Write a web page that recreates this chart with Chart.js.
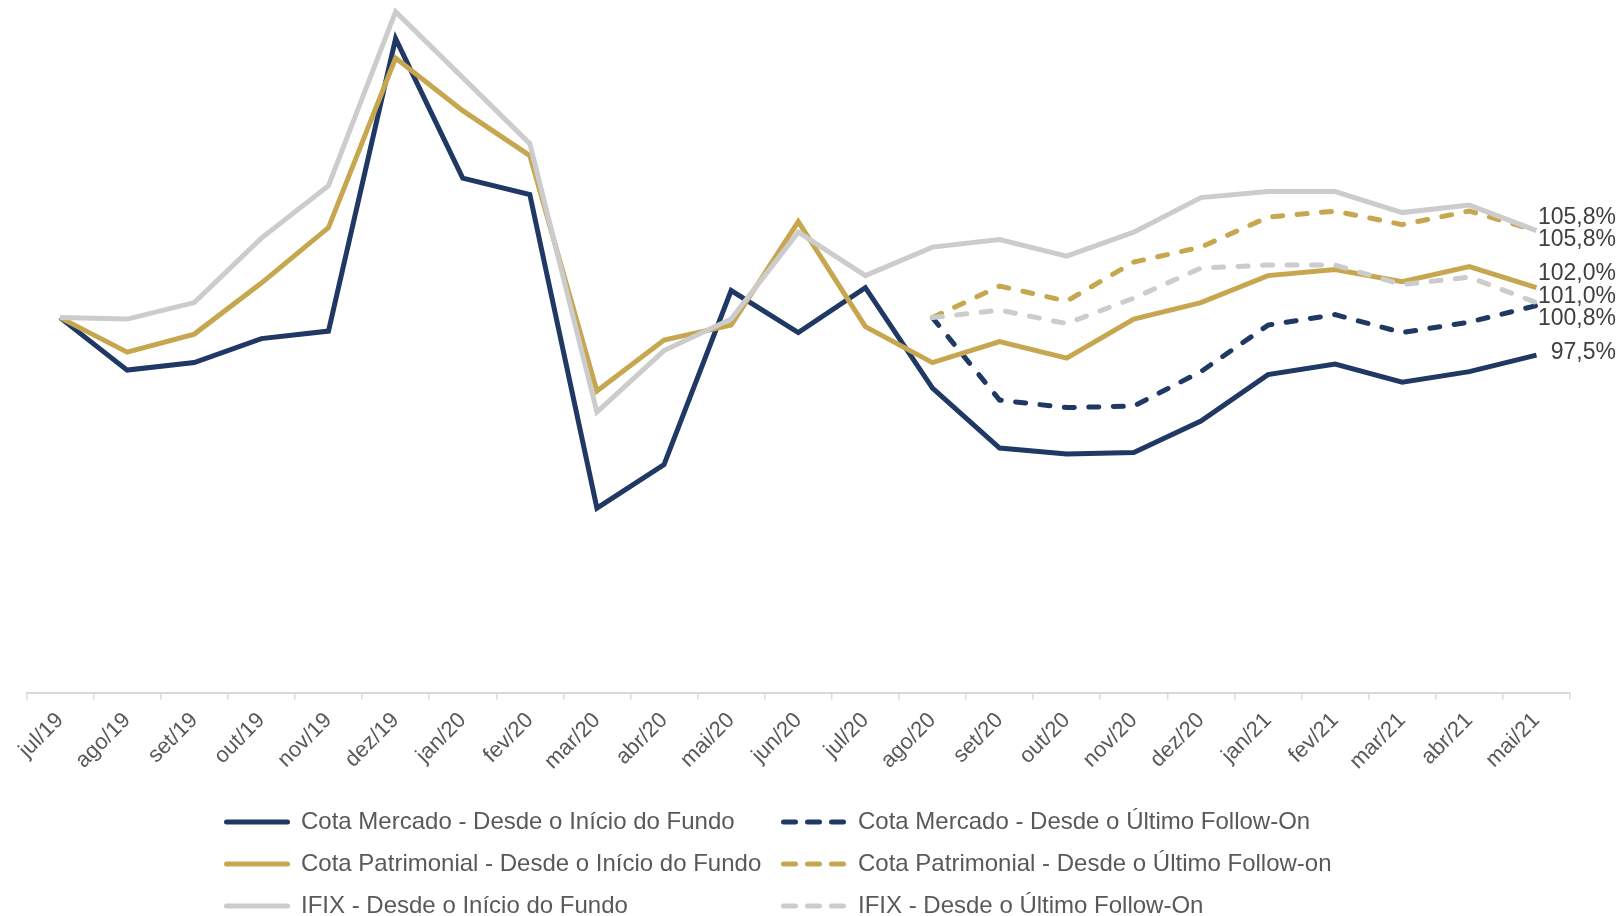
<!DOCTYPE html>
<html lang="pt-BR">
<head>
<meta charset="utf-8">
<title>Rentabilidade</title>
<script src="https://cdn.jsdelivr.net/npm/chart.js@4.4.1/dist/chart.umd.min.js"></script>
<style>
  html, body { margin: 0; padding: 0; background: #fff; }
  canvas { display: block; }
</style>
</head>
<body>
<canvas id="grafico" width="1621" height="916"></canvas>
<script>
const meses = ["jul/19", "ago/19", "set/19", "out/19", "nov/19", "dez/19", "jan/20", "fev/20",
  "mar/20", "abr/20", "mai/20", "jun/20", "jul/20", "ago/20", "set/20", "out/20", "nov/20",
  "dez/20", "jan/21", "fev/21", "mar/21", "abr/21", "mai/21"];

// desde o início do fundo (base 100 em jul/19)
const cotaMercado = [100, 96.5, 97.0, 98.6, 99.1, 118.6, 109.3, 108.2, 87.3, 90.2, 101.8, 99.0,
  102.0, 95.3, 91.3, 90.9, 91.0, 93.1, 96.2, 96.9, 95.7, 96.4, 97.5];
const cotaPatrimonial = [100, 97.7, 98.9, 102.3, 106.0, 117.3, 113.8, 110.8, 95.1, 98.5, 99.5, 106.4,
  99.4, 97.0, 98.4, 97.3, 99.9, 101.0, 102.8, 103.2, 102.4, 103.4, 102.0];
const ifix = [100, 99.9, 101.0, 105.3, 108.8, 120.4, 116.0, 111.6, 93.7, 97.8, 99.9, 105.7,
  102.8, 104.7, 105.2, 104.1, 105.7, 108.0, 108.4, 108.4, 107.0, 107.5, 105.8];

// desde o último follow-on (base 100 em ago/20)
const cotaMercadoFollowOn = [null, null, null, null, null, null, null, null, null, null, null, null, null,
  100, 94.5, 94.0, 94.1, 96.4, 99.5, 100.2, 99.0, 99.7, 100.8];
const cotaPatrimonialFollowOn = [null, null, null, null, null, null, null, null, null, null, null, null, null,
  100, 102.1, 101.1, 103.7, 104.7, 106.7, 107.1, 106.2, 107.1, 105.8];
const ifixFollowOn = [null, null, null, null, null, null, null, null, null, null, null, null, null,
  100, 100.5, 99.6, 101.3, 103.3, 103.5, 103.5, 102.2, 102.7, 101.0];

const azul = "#1F3864";
const dourado = "#C6A74F";
const cinza = "#CCCCCC";
const fonte = "'Liberation Sans', Arial, sans-serif";

function serie(label, dados, cor, tracejado, ordem) {
  return {
    label: label,
    data: dados,
    borderColor: cor,
    backgroundColor: cor,
    borderWidth: 5,
    borderDash: tracejado ? [10, 14.5] : [],
    borderCapStyle: tracejado ? "round" : "butt",
    tracejado: tracejado,
    pointRadius: 0,
    tension: 0,
    order: ordem,
  };
}

// rótulo do último valor de cada série, à direita
const rotulosFinais = {
  id: "rotulosFinais",
  afterDatasetsDraw(chart) {
    const ctx = chart.ctx;
    const espaco = 22.5;
    const itens = chart.data.datasets.map((ds, i) => {
      const meta = chart.getDatasetMeta(i);
      const ponto = meta.data[meta.data.length - 1];
      const valor = ds.data[ds.data.length - 1];
      return { y: ponto.y - 2, texto: valor.toFixed(1).replace(".", ",") + "%" };
    }).sort((a, b) => a.y - b.y);

    // junta rótulos que se sobrepõem e espalha em volta do centro
    let grupos = itens.map((it) => ({ itens: [it], centro: it.y }));
    let mudou = true;
    while (mudou) {
      mudou = false;
      for (let i = 0; i < grupos.length - 1; i++) {
        const a = grupos[i];
        const b = grupos[i + 1];
        const fimA = a.centro + ((a.itens.length - 1) / 2) * espaco;
        const iniB = b.centro - ((b.itens.length - 1) / 2) * espaco;
        if (iniB - fimA < espaco) {
          const todos = a.itens.concat(b.itens);
          const centro = todos.reduce((s, it) => s + it.y, 0) / todos.length;
          grupos.splice(i, 2, { itens: todos, centro: centro });
          mudou = true;
          break;
        }
      }
    }

    ctx.save();
    ctx.font = "23px " + fonte;
    ctx.fillStyle = "#404040";
    ctx.textAlign = "right";
    ctx.textBaseline = "middle";
    grupos.forEach((g) => {
      const inicio = g.centro - ((g.itens.length - 1) / 2) * espaco;
      g.itens.forEach((it, k) => {
        ctx.fillText(it.texto, 1616, inicio + k * espaco);
      });
    });
    ctx.restore();
  },
};

// legenda em duas colunas, como no original
const legendaColunas = {
  id: "legendaColunas",
  afterDraw(chart) {
    const ctx = chart.ctx;
    const colunas = [224, 781];
    ctx.save();
    ctx.font = "24px " + fonte;
    ctx.textBaseline = "middle";
    ctx.textAlign = "left";
    chart.data.datasets.forEach((ds, i) => {
      const x = colunas[i % 2];
      const y = 822 + Math.floor(i / 2) * 42;
      ctx.strokeStyle = ds.borderColor;
      ctx.lineWidth = 5;
      ctx.setLineDash(ds.tracejado ? [12, 12] : []);
      ctx.lineCap = "round";
      ctx.beginPath();
      ctx.moveTo(x + 2.5, y);
      ctx.lineTo(x + 63.5, y);
      ctx.stroke();
      ctx.setLineDash([]);
      ctx.fillStyle = "#595959";
      ctx.fillText(ds.label, x + 77, y);
    });
    ctx.restore();
  },
};

const grafico = new Chart(document.getElementById("grafico"), {
  type: "line",
  data: {
    labels: meses,
    datasets: [
      serie("Cota Mercado - Desde o Início do Fundo", cotaMercado, azul, false, 5),
      serie("Cota Mercado - Desde o Último Follow-On", cotaMercadoFollowOn, azul, true, 4),
      serie("Cota Patrimonial - Desde o Início do Fundo", cotaPatrimonial, dourado, false, 3),
      serie("Cota Patrimonial - Desde o Último Follow-on", cotaPatrimonialFollowOn, dourado, true, 2),
      serie("IFIX - Desde o Início do Fundo", ifix, cinza, false, 1),
      serie("IFIX - Desde o Último Follow-On", ifixFollowOn, cinza, true, 0),
    ],
  },
  options: {
    responsive: false,
    animation: false,
    layout: { padding: { top: 2.6, left: 26.5, right: 51, bottom: 123.4 } },
    plugins: {
      legend: { display: false },
      tooltip: { enabled: false },
    },
    scales: {
      x: {
        offset: true,
        grid: { offset: true, drawOnChartArea: false, tickLength: 7, color: "#D9D9D9", lineWidth: 1.5 },
        border: { color: "#D9D9D9", width: 2 },
        ticks: {
          color: "#595959",
          font: { family: fonte, size: 22 },
          maxRotation: 45,
          minRotation: 45,
          padding: 8,
          autoSkip: false,
        },
        afterFit(scale) {
          scale.height = 100;
        },
      },
      y: { display: false, min: 75, max: 121 },
    },
  },
  plugins: [rotulosFinais, legendaColunas],
});
</script>
</body>
</html>
